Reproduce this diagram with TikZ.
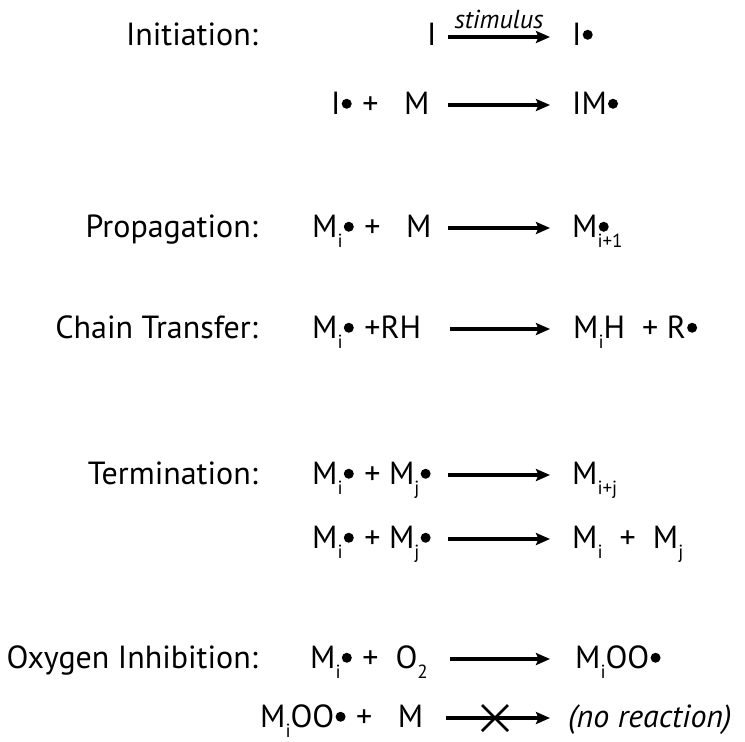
\documentclass[tikz,border=0pt]{standalone}
\usepackage{fontspec}
\setmainfont{PT Sans}
\usetikzlibrary{arrows.meta}
\newcommand\sbx[1]{\raisebox{-0.33em}{\fontsize{19}{19}\selectfont #1}}
\newcommand\rad{\kern1.2pt\tikz[baseline=-0.32em]\fill (0,0) circle (5pt);\kern2pt}
\begin{document}
\begin{tikzpicture}[x=1pt,y=-1pt,
  lab/.style={anchor=base east,inner sep=0pt,font=\fontsize{32}{34}\selectfont},
  lhs/.style={anchor=base west,inner sep=0pt,font=\fontsize{32}{34}\selectfont},
  rhs/.style={anchor=base west,inner sep=0pt,font=\fontsize{32}{34}\selectfont},
  rxn/.style={line width=3.2pt,-{Stealth[length=14pt,width=12pt,inset=2.5pt]}}]
\useasboundingbox (0,0) rectangle (745,742);
% labels
\node[lab] (L1) at (258,45) {Initiation:};
\node[lab] (L2) at (258,237) {Propagation:};
\node[lab] (L3) at (258,338) {Chain Transfer:};
\node[lab] (L4) at (258,484) {Termination:};
\node[lab] (L5) at (258,668) {Oxygen Inhibition:};
% row 1
\node[lhs] (r1l) at (427,45) {I};
\node[rhs] (r1r) at (572,45) {I\rad};
\coordinate (a1s) at (448,37); \coordinate (a1e) at (550,37);
\draw[rxn] (a1s) -- (a1e) node[midway,above=3pt,font=\fontsize{26}{27}\itshape] (stim) {stimulus};
% row 2
\node[lhs] (r2l) at (331,114) {I\rad\ +\ \ \ M};
\node[rhs] (r2r) at (572,114) {IM\rad};
\coordinate (a2s) at (448,105); \coordinate (a2e) at (550,105);
\draw[rxn] (a2s) -- (a2e);
% row 3
\node[lhs] (r3l) at (312,237) {M\sbx{i}\rad\ +\ \ \ M};
\node[rhs] (r3r) at (572,237) {M\rlap{\sbx{i+1}}\rad};
\coordinate (a3s) at (448,228); \coordinate (a3e) at (550,228);
\draw[rxn] (a3s) -- (a3e);
% row 4
\node[lhs] (r4l) at (312,338) {M\sbx{i}\rad\ +RH};
\node[rhs] (r4r) at (573,338) {M\sbx{i}H\ \ +\ R\rad};
\coordinate (a4s) at (450,329); \coordinate (a4e) at (550,329);
\draw[rxn] (a4s) -- (a4e);
% row 5
\node[lhs] (r5l) at (312,484) {M\sbx{i}\rad\ + M\sbx{j}\rad};
\node[rhs] (r5r) at (572,484) {M\sbx{i+j}};
\coordinate (a5s) at (448,475); \coordinate (a5e) at (550,475);
\draw[rxn] (a5s) -- (a5e);
% row 6
\node[lhs] (r6l) at (312,548) {M\sbx{i}\rad\ + M\sbx{j}\rad};
\node[rhs] (r6r) at (572,548) {M\sbx{i}\ \ +\ \ M\sbx{j}};
\coordinate (a6s) at (448,539); \coordinate (a6e) at (550,539);
\draw[rxn] (a6s) -- (a6e);
% row 7
\node[lhs] (r7l) at (310,668) {M\sbx{i}\rad\ +\ \ O\sbx{2}};
\node[rhs] (r7r) at (575,668) {M\sbx{i}OO\rad};
\coordinate (a7s) at (450,659); \coordinate (a7e) at (550,659);
\draw[rxn] (a7s) -- (a7e);
% row 8
\node[lhs] (r8l) at (260,727) {M\sbx{i}OO\rad\ +\ \ \ M};
\node[rhs] (r8r) at (568,727) {\itshape (no reaction)};
\coordinate (a8s) at (446,718); \coordinate (a8e) at (550,718);
\draw[rxn] (a8s) -- (a8e);
\coordinate (x1) at (482,705); \coordinate (x2) at (508,731);
\coordinate (x3) at (482,731); \coordinate (x4) at (508,705);
\draw[line width=2.6pt] (x1) -- (x2) (x3) -- (x4);
\end{tikzpicture}
\end{document}
